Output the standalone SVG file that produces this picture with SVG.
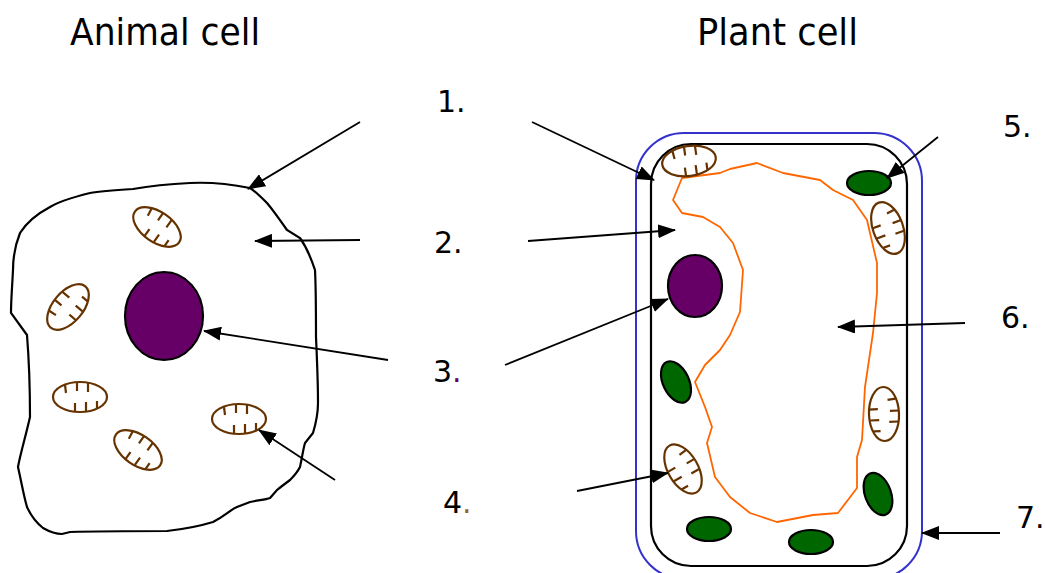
<svg xmlns="http://www.w3.org/2000/svg" width="1045" height="573" viewBox="0 0 1045 573">
  <style>
    .title { font-family: "DejaVu Sans", "Liberation Sans", sans-serif; font-size: 38px; fill: #000; }
    .num { font-family: "DejaVu Sans", "Liberation Sans", sans-serif; font-size: 30px; fill: #000; }
    .membrane { fill: #fff; stroke: #000; stroke-width: 2.2; }
    .nucleus { fill: #660066; stroke: #000; stroke-width: 2.2; }
    .chloro { fill: #006600; stroke: #000; stroke-width: 2.2; }
    .wall { fill: none; stroke: #3333cc; stroke-width: 2; }
    .vacuole { fill: none; stroke: #ff6600; stroke-width: 1.8; stroke-linejoin: round; }
    .mito ellipse { fill: #fff; stroke: #663300; stroke-width: 2.2; }
    .mito path { fill: none; stroke: #663300; stroke-width: 2.2; }
    .conn line { stroke: #000; stroke-width: 1.8; marker-end: url(#ah); }
  </style>
  <defs>
    <marker id="ah" markerWidth="18" markerHeight="14" refX="17" refY="7" orient="auto" markerUnits="userSpaceOnUse">
      <path d="M0,0 L18,7 L0,14 z" fill="#000"/>
    </marker>
    <!-- mitochondrion with cristae, centred on the origin -->
    <g id="mito" class="mito">
      <ellipse cx="0" cy="0" rx="27" ry="15"/>
      <path d="M-15,-12 L-14,-4 M-3,-15 L-3,-6 M8,-14 L8,-5 M-5,15 L-5,6 M6,14 L6,5 M17,11 L17,4"/>
    </g>
  </defs>

  <rect width="1045" height="573" fill="#fff"/>

  <text class="title" x="70" y="45" textLength="190" lengthAdjust="spacingAndGlyphs">Animal cell</text>
  <text class="title" x="697" y="45" textLength="161" lengthAdjust="spacingAndGlyphs">Plant cell</text>

  <!-- animal cell -->
  <g id="animal-cell">
    <path class="membrane" d="M250,188 C230,184 210,182 190,183 C170,184 150,186 133,189 C115,190 100,191 90,193 C70,198 58,202 50,207 C35,215 25,225 20,233 C14,248 13,260 13,270 C12,290 11,300 11,313 L27,335 C29,360 30,390 30,417 C26,435 20,455 18,467 C22,485 24,497 27,507 C32,518 38,524 43,528 C50,532 56,534 62,534 L70,532 C100,531 135,531 167,531 C185,529 200,526 213,522 C225,516 230,510 237,507 L250,502 C258,500 265,500 270,498 L277,490 C282,486 286,483 290,480 C295,475 298,471 300,467 C302,458 303,450 305,443 L313,433 C316,423 318,413 318,403 C318,380 317,360 316,337 C316,315 316,290 315,270 C310,255 305,245 300,238 L287,230 C280,220 273,210 267,203 C260,196 255,191 250,188 Z"/>
    <ellipse class="nucleus" cx="164" cy="316" rx="39" ry="44"/>
    <use href="#mito" transform="translate(157,227) rotate(35)"/>
    <use href="#mito" transform="translate(68,307) rotate(-50)"/>
    <use href="#mito" transform="translate(80,397)"/>
    <use href="#mito" transform="translate(138,450) rotate(35)"/>
    <use href="#mito" transform="translate(239,419)"/>
  </g>

  <!-- plant cell -->
  <g id="plant-cell">
    <rect class="wall" x="636" y="133" width="286" height="446" rx="48" ry="48"/>
    <rect class="membrane" x="651" y="144" width="256" height="422" rx="40" ry="40"/>
    <path class="vacuole" d="M682,178 L720,173 L730,169 L757,163 L783,173 L820,180 L833,190 L853,200 L867,220 L877,263 L877,293 L873,333 L865,387 L862,440 L857,457 L857,488 L838,513 L813,515 L777,522 L750,513 L730,497 L715,477 L707,443 L712,427 L705,407 L695,382 L705,365 L720,350 L730,335 L740,312 L743,270 L733,243 L720,227 L703,217 L682,213 L673,200 Z"/>
    <ellipse class="nucleus" cx="695" cy="286" rx="27" ry="31"/>
    <ellipse class="chloro" cx="869" cy="183" rx="22" ry="12"/>
    <ellipse class="chloro" cx="676" cy="382" rx="22" ry="13" transform="rotate(65 676 382)"/>
    <ellipse class="chloro" cx="878" cy="494" rx="22" ry="13" transform="rotate(70 878 494)"/>
    <ellipse class="chloro" cx="709" cy="529" rx="22" ry="12"/>
    <ellipse class="chloro" cx="811" cy="542" rx="22" ry="12"/>
    <use href="#mito" transform="translate(689,161) rotate(-8)"/>
    <use href="#mito" transform="translate(888,228) rotate(70)"/>
    <use href="#mito" transform="translate(884,414) rotate(88)"/>
    <use href="#mito" transform="translate(683,469) rotate(60)"/>
  </g>

  <!-- pointer arrows -->
  <g id="connectors" class="conn">
    <line x1="360" y1="122" x2="248" y2="189"/>
    <line x1="360" y1="240" x2="255" y2="241"/>
    <line x1="388" y1="360" x2="204" y2="331"/>
    <line x1="335" y1="480" x2="259" y2="430"/>
    <line x1="532" y1="122" x2="654" y2="180"/>
    <line x1="528" y1="241" x2="675" y2="230"/>
    <line x1="505" y1="365" x2="668" y2="299"/>
    <line x1="577" y1="491" x2="668" y2="473"/>
    <line x1="938" y1="137" x2="887" y2="178"/>
    <line x1="965" y1="323" x2="838" y2="327"/>
    <line x1="1000" y1="533" x2="922" y2="533"/>
  </g>

  <!-- number labels -->
  <g id="labels">
    <text class="num" x="437" y="112">1.</text>
    <text class="num" x="434" y="253">2.</text>
    <text class="num" x="433" y="382">3<tspan fill="#660066">.</tspan></text>
    <text class="num" x="443" y="513">4<tspan fill="#996633">.</tspan></text>
    <text class="num" x="1003" y="137">5.</text>
    <text class="num" x="1001" y="328">6.</text>
    <text class="num" x="1016" y="528">7.</text>
  </g>
</svg>
